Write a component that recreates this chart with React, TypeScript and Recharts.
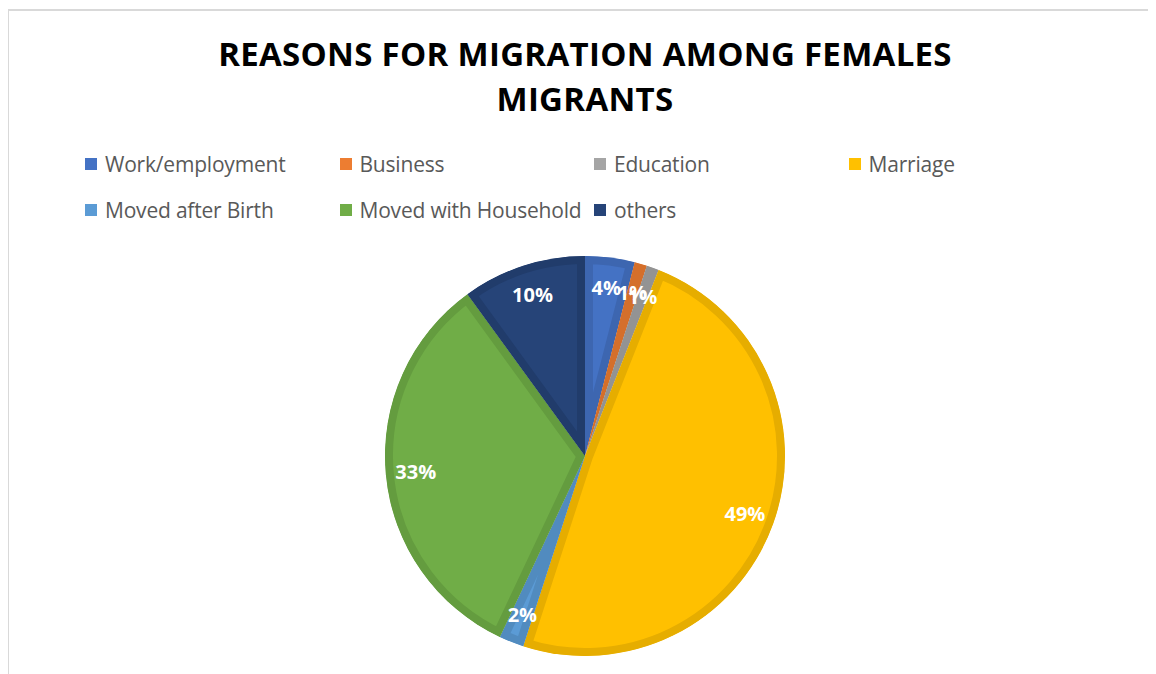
import { Legend, Pie, PieChart, Sector } from "recharts";

const reasons = [
  "Work/employment",
  "Business",
  "Education",
  "Marriage",
  "Moved after Birth",
  "Moved with Household",
  "others"
];
const shares = [4, 1, 1, 49, 2, 33, 10];
const fills = ["#4472C4", "#ED7D31", "#A5A5A5", "#FFC000", "#5B9BD5", "#70AD47", "#264478"];
const borders = ["#3d66b0", "#d46f2b", "#939393", "#e6ad00", "#518bbf", "#649c3f", "#213c6b"];

const data = reasons.map((name, i) => ({ name, value: shares[i], fill: fills[i], border: borders[i] }));

const FONT = "'Open Sans', 'Noto Sans', sans-serif";
const RAD = Math.PI / 180;

// Excel-style slice with an inner darker border: stroke is clipped to the slice itself
function InsetSector(props: any) {
  const { cx, cy, innerRadius, outerRadius, startAngle, endAngle, payload } = props;
  const geo = { cx, cy, innerRadius, outerRadius, startAngle, endAngle };
  const id = "clip-" + String(payload.name).replace(/[^a-z]/gi, "");
  return (
    <g>
      <defs>
        <clipPath id={id}>
          <Sector {...geo} />
        </clipPath>
      </defs>
      <g clipPath={`url(#${id})`}>
        <Sector {...geo} fill={payload.fill} stroke={payload.border} strokeWidth={16} />
      </g>
    </g>
  );
}

function renderLabel(props: any) {
  const { cx, cy, midAngle, value } = props;
  const r = 170;
  const x = cx + r * Math.cos(-midAngle * RAD);
  const y = cy + r * Math.sin(-midAngle * RAD);
  return (
    <text
      x={x}
      y={y}
      fill="#ffffff"
      fontFamily={FONT}
      fontWeight={700}
      fontSize={20}
      textAnchor="middle"
      dominantBaseline="central"
    >
      {`${value}%`}
    </text>
  );
}

function LegendGrid() {
  return (
    <div style={{ display: "grid", gridTemplateColumns: "repeat(4, 254.5px)", rowGap: 0, fontFamily: FONT }}>
      {data.map((d) => (
        <div key={d.name} style={{ display: "flex", alignItems: "center", height: 46, whiteSpace: "nowrap" }}>
          <span style={{ width: 12, height: 12, background: d.fill, marginRight: 8, display: "inline-block" }} />
          <span style={{ color: "#595959", fontSize: 21, letterSpacing: -0.2 }}>{d.name}</span>
        </div>
      ))}
    </div>
  );
}

export default function App() {
  return (
    <div
      style={{
        position: "relative",
        marginLeft: -1,
        marginTop: 1,
        width: 1160,
        height: 680,
        borderTop: "2px solid #d9d9d9",
        borderLeft: "2px solid #d9d9d9",
        background: "#ffffff"
      }}
    >
      <div
        style={{
          position: "absolute",
          left: 0,
          top: 20,
          width: 1152,
          textAlign: "center",
          fontFamily: FONT,
          fontWeight: 700,
          fontSize: 33,
          lineHeight: "45px",
          color: "#000000",
          letterSpacing: 0.3
        }}
      >
        REASONS FOR MIGRATION AMONG FEMALES
        <br />
        MIGRANTS
      </div>
      <PieChart width={1150} height={665} margin={{ top: 0, right: 0, bottom: 0, left: 0 }}>
        <Legend
          content={() => <LegendGrid />}
          wrapperStyle={{ position: "absolute", left: 76, top: 130, width: 1040 }}
        />
        <Pie
          data={data}
          dataKey="value"
          nameKey="name"
          cx={576}
          cy={445}
          outerRadius={200}
          startAngle={90}
          endAngle={-270}
          stroke="none"
          shape={InsetSector}
          label={renderLabel}
          labelLine={false}
          isAnimationActive={false}
        />
      </PieChart>
    </div>
  );
}
